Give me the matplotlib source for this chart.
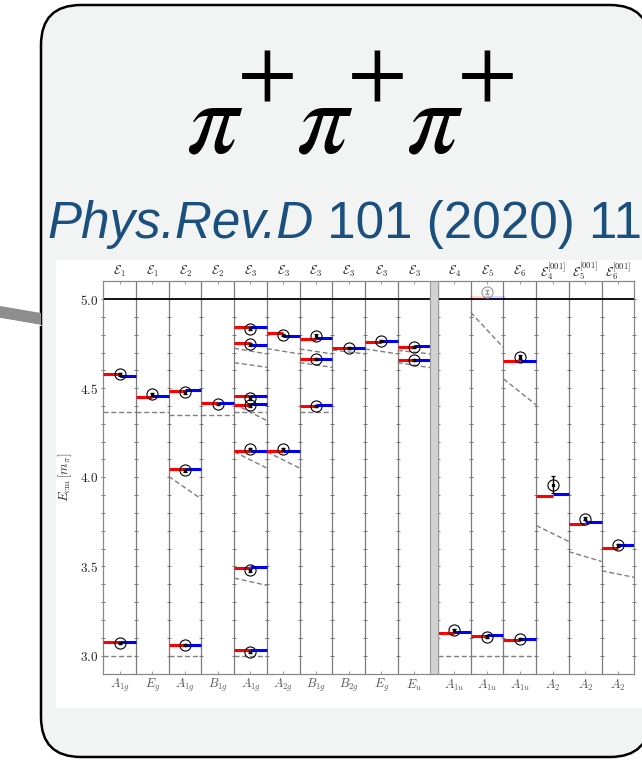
import numpy as np
import matplotlib
matplotlib.use("Agg")
import matplotlib.pyplot as plt
from matplotlib.patches import FancyBboxPatch, Polygon, Rectangle

plt.rcParams['mathtext.fontset'] = 'cm'

# irrep labels per column (left block: rest frame, right block: moving frames)
top_labels = [r'$\mathcal{E}_1$', r'$\mathcal{E}_1$', r'$\mathcal{E}_2$', r'$\mathcal{E}_2$',
              r'$\mathcal{E}_3$', r'$\mathcal{E}_3$', r'$\mathcal{E}_3$', r'$\mathcal{E}_3$',
              r'$\mathcal{E}_3$', r'$\mathcal{E}_3$',
              r'$\mathcal{E}_4$', r'$\mathcal{E}_5$', r'$\mathcal{E}_6$',
              r'$\mathcal{E}_4^{[001]}$', r'$\mathcal{E}_5^{[001]}$', r'$\mathcal{E}_6^{[001]}$']
bottom_labels = [r'$A_{1g}$', r'$E_g$', r'$A_{1g}$', r'$B_{1g}$', r'$A_{1g}$', r'$A_{2g}$',
                 r'$B_{1g}$', r'$B_{2g}$', r'$E_g$', r'$E_u$',
                 r'$A_{1u}$', r'$A_{1u}$', r'$A_{1u}$', r'$A_2$', r'$A_2$', r'$A_2$']

# levels: column, red (left half), blue (right half), lattice point, error
lev_col = [0, 0, 1, 2, 2, 2, 3,
           4, 4, 4, 4, 4, 4, 4,
           5, 5, 6, 6, 6, 7, 8, 9, 9,
           10, 11, 12, 12, 13, 14, 15]
lev_red = [4.582, 3.077, 4.453, 4.485, 4.046, 3.058, 4.417,
           4.845, 4.755, 4.458, 4.406, 4.148, 3.489, 3.032,
           4.808, 4.148, 4.778, 4.662, 4.402, 4.724, 4.761, 4.733, 4.658,
           3.127, 3.109, 4.651, 3.090, 3.893, 3.736, 3.601]
lev_blue = [4.566, 3.078, 4.455, 4.487, 4.048, 3.058, 4.417,
            4.843, 4.740, 4.456, 4.412, 4.150, 3.495, 3.034,
            4.793, 4.150, 4.780, 4.662, 4.408, 4.724, 4.763, 4.738, 4.658,
            3.133, 3.116, 4.651, 3.095, 3.908, 3.749, 3.622]
lev_lat = [4.578, 3.073, 4.466, 4.476, 4.040, 3.060, 4.410,
           4.834, 4.745, 4.444, 4.404, 4.158, 3.478, 3.022,
           4.796, 4.158, 4.794, 4.662, 4.400, 4.727, 4.763, 4.731, 4.660,
           3.142, 3.105, 4.675, 3.094, 3.958, 3.769, 3.618]
lev_err = [0.008, 0.006, 0.008, 0.008, 0.008, 0.006, 0.006,
           0.008, 0.006, 0.012, 0.008, 0.006, 0.008, 0.006,
           0.006, 0.008, 0.010, 0.006, 0.006, 0.005, 0.005, 0.006, 0.006,
           0.010, 0.008, 0.012, 0.006, 0.047, 0.010, 0.008]

# level above the 5 m_pi cut (drawn faded)
faded_col = 11
faded_red, faded_blue, faded_lat, faded_err = 5.010, 5.010, 5.041, 0.012

# non-interacting thresholds (dashed): column, value at left edge, value at right edge
dash_col = [0, 0, 1, 2, 2, 2, 3,
            4, 4, 4, 4, 4, 4, 4,
            5, 5, 6, 6, 6, 7, 8, 9, 9,
            10, 11, 11, 12, 12, 13, 14, 15]
dash_y0 = [4.369, 3.0, 4.369, 4.352, 4.005, 3.0, 4.352,
           4.724, 4.643, 4.412, 4.369, 4.143, 3.435, 3.0,
           4.722, 4.143, 4.720, 4.643, 4.369, 4.714, 4.720, 4.712, 4.643,
           3.0, 4.925, 3.0, 4.552, 3.0, 3.730, 3.583, 3.476]
dash_y1 = [4.369, 3.0, 4.369, 4.352, 3.878, 3.0, 4.352,
           4.692, 4.617, 4.318, 4.369, 4.052, 3.394, 3.0,
           4.692, 4.052, 4.692, 4.617, 4.369, 4.692, 4.692, 4.692, 4.615,
           3.0, 4.727, 3.0, 4.406, 3.0, 3.640, 3.528, 3.439]

n_left, n_right = 10, 6
gap = 0.235
W, H = 642, 764


def col_left(i):
    return i if i < n_left else i + gap


fig = plt.figure(figsize=(W / 100, H / 100), dpi=100)

# background: rounded box, title, reference
bg = fig.add_axes([0, 0, 1, 1])
bg.set_xlim(0, W)
bg.set_ylim(H, 0)
bg.axis('off')
bg.add_patch(FancyBboxPatch((41 + 40, 5 + 40), 650 - 41 - 80, 757 - 5 - 80,
                            boxstyle='round,pad=40', fc='#f2f4f4', ec='black', lw=1.8))
bg.add_patch(Polygon([(0, 306), (41, 313), (41, 325), (0, 318)], closed=True,
                     fc='#8e8e8e', ec='none'))
bg.plot([0, 41], [318.5, 325.5], color='white', lw=0.8)
bg.add_patch(Rectangle((56, 260), 600, 448, fc='white', ec='none'))

# pi+ pi+ pi+ written glyph by glyph
for k in range(3):
    bg.text(186 + 110 * k, 153, r'$\pi$', fontsize=74, ha='left', va='baseline',
            math_fontfamily='stix')
    bg.text(265 + 110 * k, 65, r'$+$', fontsize=62, ha='center', va='center_baseline',
            math_fontfamily='stix')

t1 = bg.text(47, 238, 'Phys.Rev.D', fontsize=36.8, style='italic', color='#1a4f7e',
             family='Liberation Sans', ha='left', va='baseline')
renderer = fig.canvas.get_renderer()
bb = t1.get_window_extent(renderer)
x_end = bg.transData.inverted().transform((bb.x1, bb.y0))[0]
bg.text(x_end, 238, ' 101 (2020) 11', fontsize=36.8, color='#1a4f7e',
        family='Liberation Sans', ha='left', va='baseline')

# spectrum panel
x0, x1, ytop, ybot = 103.3, 634.3, 281, 674
ax = fig.add_axes([x0 / W, (H - ybot) / H, (x1 - x0) / W, (ybot - ytop) / H])
xmax = n_left + gap + n_right
ax.set_xlim(0, xmax)
ax.set_ylim(2.897, 5.101)

bounds = [col_left(i) for i in range(1, n_left + n_right)]
minor_y = np.arange(3.0, 5.05, 0.1)
for b in bounds:
    ax.axvline(b, color='#7a7a7a', lw=0.9, zorder=1)
    ax.plot(np.full(len(minor_y), b), minor_y, ls='none', marker='_', ms=3.5,
            mew=0.7, color='#777777', zorder=1)
ax.axvspan(n_left, n_left + gap, color='#d2d2d2', ec='#9a9a9a', lw=0.8, zorder=4)
ax.axhline(5.0, color='black', lw=1.3, zorder=2)

for c, a, b in zip(dash_col, dash_y0, dash_y1):
    l = col_left(c)
    ax.plot([l, l + 1], [a, b], color='#7f7f7f', lw=1.0, dashes=(3.6, 2.0), zorder=2)

for c, r, bl, e, s in zip(lev_col, lev_red, lev_blue, lev_lat, lev_err):
    l = col_left(c)
    ax.plot([l, l + 0.5], [r, r], color='red', lw=2.2, solid_capstyle='butt', zorder=3)
    ax.plot([l + 0.5, l + 1], [bl, bl], color='blue', lw=2.2, solid_capstyle='butt', zorder=3)
    ax.errorbar(l + 0.5, e, yerr=s, fmt='s', ms=1.4, color='black', elinewidth=1.0,
                capsize=1.6, capthick=0.9, zorder=5)
    ax.plot(l + 0.5, e, 'o', ms=8, mfc='none', mec='black', mew=0.8, zorder=5)

l = col_left(faded_col)
ax.plot([l, l + 0.5], [faded_red] * 2, color='red', lw=2.2, alpha=0.15, zorder=3)
ax.plot([l + 0.5, l + 1], [faded_blue] * 2, color='blue', lw=2.2, alpha=0.15, zorder=3)
ax.errorbar(l + 0.5, faded_lat, yerr=faded_err, fmt='none', color='#999999',
            elinewidth=1.0, capsize=1.6, zorder=5)
ax.plot(l + 0.5, faded_lat, 'o', ms=8, mfc='none', mec='#999999', mew=0.8, zorder=5)

centers = [col_left(i) + 0.5 for i in range(n_left + n_right)]
ax.set_xticks(centers)
ax.set_xticklabels([])
ax.tick_params(axis='x', which='both', direction='in', top=True, bottom=True,
               length=2.5, color='#888888', width=0.6)
ax.set_yticks([3.0, 3.5, 4.0, 4.5, 5.0])
ax.set_yticklabels([r'$3.0$', r'$3.5$', r'$4.0$', r'$4.5$', r'$5.0$'],
                   fontsize=9.5, color='#222222')
ax.set_yticks(minor_y, minor=True)
ax.tick_params(axis='y', which='both', direction='inout', left=True, right=True,
               length=3.5, color='#777777', width=0.7, pad=2)
for sp in ax.spines.values():
    sp.set_color('#888888')
    sp.set_linewidth(0.9)
ax.set_ylabel(r'$E_{\rm cm}\,[m_\pi]$', fontsize=9.5, color='#333333', labelpad=4)

for x, s in zip(centers, top_labels):
    ax.text(x, 1 + 10 / 393, s, transform=ax.get_xaxis_transform(), ha='center',
            va='center', fontsize=9, color='#222222')
for x, s in zip(centers, bottom_labels):
    ax.text(x, -11 / 393, s, transform=ax.get_xaxis_transform(), ha='center',
            va='center', fontsize=9, color='#555555')

fig.savefig('out.png', dpi=100)
